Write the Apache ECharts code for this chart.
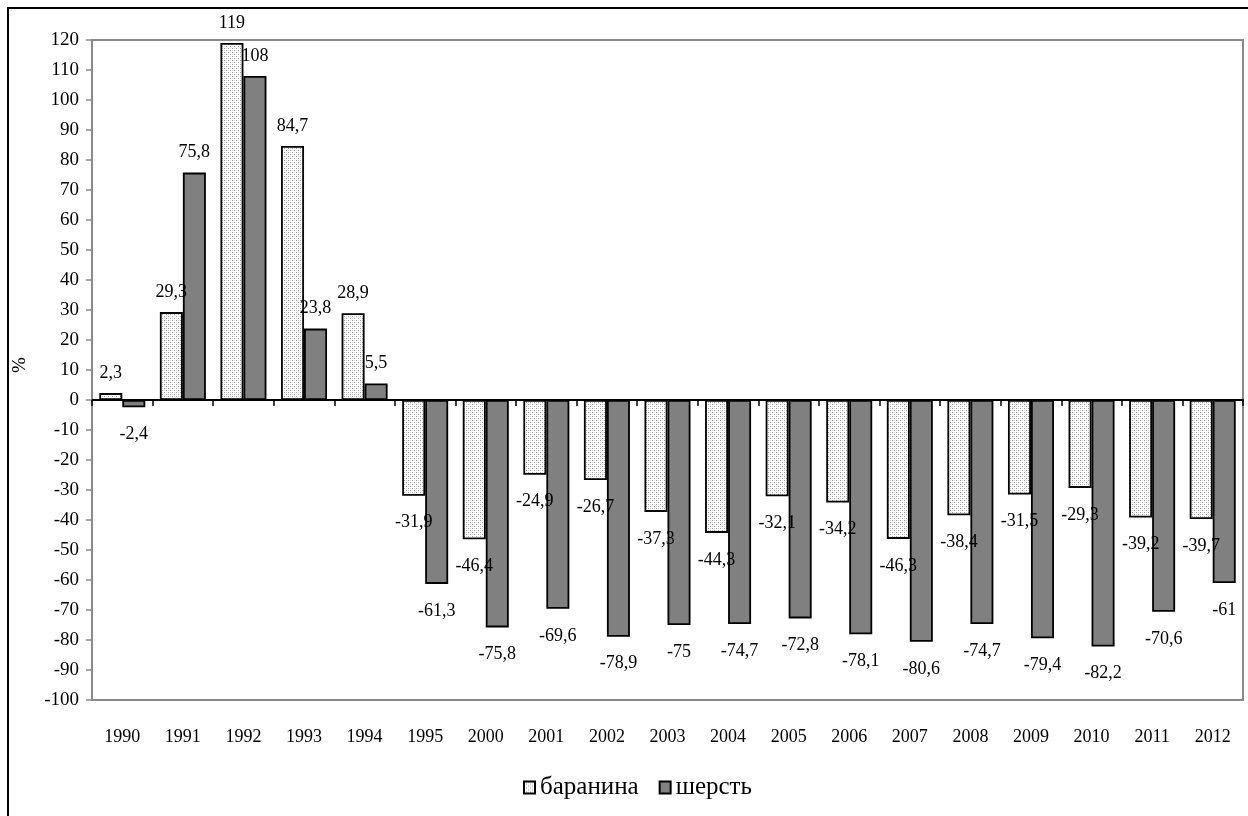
<!DOCTYPE html>
<html><head><meta charset="utf-8">
<script src="https://cdn.jsdelivr.net/npm/echarts@6/dist/echarts.min.js"></script>
<style>html,body{margin:0;padding:0;background:#fff}#c{width:1248px;height:816px}</style>
</head><body><div id="c"></div>
<script>
const categories = ['1990','1991','1992','1993','1994','1995','2000','2001','2002','2003','2004','2005','2006','2007','2008','2009','2010','2011','2012'];
const baranina = [2.3, 29.3, 119, 84.7, 28.9, -31.9, -46.4, -24.9, -26.7, -37.3, -44.3, -32.1, -34.2, -46.3, -38.4, -31.5, -29.3, -39.2, -39.7];
const sherst = [-2.4, 75.8, 108, 23.8, 5.5, -61.3, -75.8, -69.6, -78.9, -75, -74.7, -72.8, -78.1, -80.6, -74.7, -79.4, -82.2, -70.6, -61];
const seriesNames = ['баранина', 'шерсть'];
const yMin = -100, yMax = 120, yStep = 10;

const FONT = '"Liberation Serif","DejaVu Serif",serif';

// dotted pattern
const pc = document.createElement('canvas');
pc.width = 4; pc.height = 4;
const pctx = pc.getContext('2d');
pctx.fillStyle = '#ffffff'; pctx.fillRect(0,0,4,4);
pctx.fillStyle = '#9a9a9a';
pctx.fillRect(0,0,1,1); pctx.fillRect(2,2,1,1);
pctx.fillStyle = '#d8d8d8';
pctx.fillRect(2,0,1,1); pctx.fillRect(0,2,1,1);

const fmt = v => String(v).replace('.', ',');
function items(arr){
  return arr.map(v => ({
    value: v,
    label: v < 0 ? {position: 'bottom', distance: 18} : {position: 'top', distance: 11}
  }));
}

const chart = echarts.init(document.getElementById('c'), null, {renderer: 'canvas'});
chart.setOption({
  animation: false,
  backgroundColor: '#fff',
  graphic: [{
    type: 'rect', shape: {x: 8, y: 8, width: 1400, height: 1000},
    style: {fill: 'none', stroke: '#000', lineWidth: 2}, z: 100
  }],
  grid: {left: 92, top: 40, right: 5, bottom: 116, show: true, borderColor: '#8a8a8a', borderWidth: 2, backgroundColor: 'transparent'},
  legend: {
    data: seriesNames, left: 518, top: 770, icon: 'rect', itemWidth: 11, itemHeight: 12, itemGap: 20,
    textStyle: {fontFamily: FONT, fontSize: 25, color: '#000'}
  },
  xAxis: [{
    type: 'category', data: categories, position: 'bottom',
    axisLine: {onZero: true, lineStyle: {color: '#000', width: 2}},
    axisTick: {show: true, length: 6, lineStyle: {color: '#000', width: 1.5}},
    axisLabel: {show: false}, splitLine: {show: false}
  }, {
    type: 'category', data: categories, position: 'bottom',
    axisLine: {show: false, onZero: false}, axisTick: {show: false},
    axisLabel: {show: true, margin: 28, fontFamily: FONT, fontSize: 18, color: '#000'}
  }],
  yAxis: {
    type: 'value', min: yMin, max: yMax, interval: yStep,
    name: '%', nameLocation: 'middle', nameGap: 62, nameRotate: 90,
    nameTextStyle: {fontFamily: FONT, fontSize: 19, color: '#000', padding: [0, 0, 0, 10]},
    axisLine: {show: true, lineStyle: {color: '#8a8a8a', width: 2}},
    axisTick: {show: true, length: 6, lineStyle: {color: '#8a8a8a', width: 1.5}},
    axisLabel: {margin: 13, fontFamily: FONT, fontSize: 19, color: '#000'},
    splitLine: {show: false}
  },
  series: [{
    name: seriesNames[0], type: 'bar', xAxisIndex: 0, data: items(baranina),
    barWidth: 23, barGap: '0%',
    itemStyle: {color: {image: pc, repeat: 'repeat'}, borderColor: '#000', borderWidth: 1.8},
    label: {show: true, formatter: p => fmt(p.value), fontFamily: FONT, fontSize: 18, color: '#000'}
  }, {
    name: seriesNames[1], type: 'bar', xAxisIndex: 0, data: items(sherst),
    barWidth: 23, barGap: '0%',
    itemStyle: {color: '#808080', borderColor: '#000', borderWidth: 1.8},
    label: {show: true, formatter: p => fmt(p.value), fontFamily: FONT, fontSize: 18, color: '#000'}
  }]
});
</script></body></html>
